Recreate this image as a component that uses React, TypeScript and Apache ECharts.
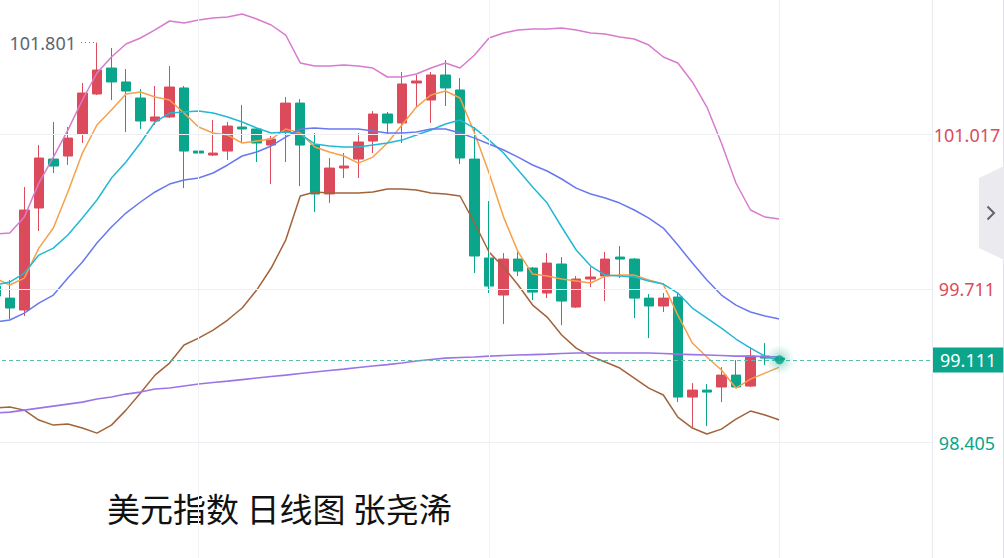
import React, { useEffect, useRef } from "react";
import * as echarts from "echarts";

// ---------- data ----------
const slotCount = 65; // 55 trading days + empty space on the right
const categories = Array.from({ length: slotCount }, (_, i) => `K${i + 1}`);

// [open, close, low, high]
const ohlc: number[][] = [
  [99.736, 99.651, 99.617, 99.787],
  [99.634, 99.55, 99.456, 99.787],
  [99.533, 100.381, 99.482, 100.576],
  [100.398, 100.822, 100.203, 100.932],
  [100.813, 100.754, 100.695, 101.127],
  [100.839, 100.991, 100.763, 101.085],
  [101.025, 101.373, 100.949, 101.458],
  [101.365, 101.568, 101.356, 101.801],
  [101.585, 101.467, 101.314, 101.755],
  [101.467, 101.39, 101.042, 101.577],
  [101.331, 101.136, 101.068, 101.407],
  [101.136, 101.17, 101.102, 101.433],
  [101.17, 101.424, 101.161, 101.602],
  [101.416, 100.881, 100.567, 101.433],
  [100.881, 100.864, 100.593, 100.991],
  [100.847, 100.864, 100.839, 101.144],
  [100.881, 101.093, 100.805, 101.127],
  [101.085, 101.068, 100.949, 101.271],
  [101.068, 100.949, 100.788, 101.076],
  [100.932, 100.983, 100.601, 101.008],
  [101.042, 101.288, 100.788, 101.339],
  [101.288, 100.932, 100.584, 101.322],
  [100.932, 100.517, 100.364, 101.034],
  [100.517, 100.737, 100.44, 100.822],
  [100.737, 100.754, 100.652, 100.864],
  [100.813, 100.958, 100.652, 101.034],
  [100.966, 101.195, 100.864, 101.22],
  [101.195, 101.119, 101.025, 101.212],
  [101.119, 101.45, 100.949, 101.551],
  [101.458, 101.475, 101.254, 101.526],
  [101.314, 101.526, 101.119, 101.551],
  [101.526, 101.416, 101.263, 101.653],
  [101.399, 100.822, 100.771, 101.5],
  [100.813, 99.991, 99.846, 101.085],
  [99.974, 99.736, 99.677, 100.457],
  [99.66, 99.965, 99.414, 100.016],
  [99.965, 99.863, 99.821, 100.042],
  [99.889, 99.685, 99.617, 99.897],
  [99.677, 99.931, 99.634, 100.016],
  [99.923, 99.609, 99.405, 99.982],
  [99.558, 99.796, 99.55, 99.821],
  [99.796, 99.813, 99.728, 99.897],
  [99.821, 99.965, 99.609, 100.025],
  [99.982, 99.965, 99.804, 100.075],
  [99.965, 99.634, 99.465, 99.974],
  [99.634, 99.567, 99.295, 99.668],
  [99.567, 99.634, 99.516, 99.677],
  [99.643, 98.795, 98.752, 99.677],
  [98.795, 98.854, 98.54, 98.913],
  [98.854, 98.837, 98.549, 98.905],
  [98.88, 98.981, 98.752, 99.049],
  [98.981, 98.88, 98.871, 99.108],
  [98.888, 99.142, 98.88, 99.219],
  [99.142, 99.125, 99.066, 99.253],
  [99.125, 99.111, 99.1, 99.142],
];

const ma5 = [
  99.804, 99.745, 99.804, 100.058, 100.228, 100.534, 100.864, 101.102, 101.229, 101.365,
  101.382, 101.339, 101.314, 101.203, 101.085, 101.034, 101.017, 100.949, 100.966, 100.983,
  101.068, 101.034, 100.915, 100.873, 100.839, 100.779, 100.83, 100.949, 101.102, 101.254,
  101.356, 101.39, 101.331, 101.034, 100.695, 100.321, 100.025, 99.838, 99.821, 99.796,
  99.779, 99.762, 99.821, 99.829, 99.829, 99.787, 99.753, 99.49, 99.253, 99.134,
  99.024, 98.871, 98.947, 98.998, 99.049,
];

const ma10 = [
  99.745, 99.77, 99.846, 99.999, 100.058, 100.169, 100.313, 100.466, 100.652, 100.788,
  100.949, 101.127, 101.203, 101.212, 101.22, 101.203, 101.17, 101.127, 101.076, 101.034,
  101.042, 101.025, 100.941, 100.924, 100.915, 100.915, 100.932, 100.949, 100.974, 101.017,
  101.059, 101.11, 101.144, 101.076, 100.974, 100.864, 100.72, 100.576, 100.44, 100.237,
  100.042, 99.906, 99.829, 99.821, 99.813, 99.779, 99.753, 99.677, 99.55, 99.465,
  99.38, 99.287, 99.21, 99.142, 99.1,
];

const ma20 = [
  99.431, 99.448, 99.507, 99.592, 99.66, 99.804, 99.94, 100.101, 100.237, 100.355,
  100.449, 100.534, 100.601, 100.635, 100.652, 100.695, 100.763, 100.839, 100.873, 100.924,
  101.0, 101.068, 101.076, 101.068, 101.068, 101.068, 101.051, 101.034, 101.034, 101.042,
  101.068, 101.068, 101.034, 100.991, 100.941, 100.89, 100.83, 100.763, 100.712, 100.644,
  100.567, 100.517, 100.483, 100.44, 100.381, 100.313, 100.228, 100.084, 99.931, 99.787,
  99.66, 99.575, 99.516, 99.482, 99.456,
];

const bollUpper = [
  100.177, 100.186, 100.321, 100.61, 100.83, 101.059, 101.314, 101.543, 101.679, 101.789,
  101.84, 101.908, 101.984, 101.967, 101.992, 102.009, 102.018, 102.043, 102.001, 101.95,
  101.865, 101.628, 101.602, 101.602, 101.611, 101.602, 101.585, 101.509, 101.509, 101.534,
  101.585, 101.628, 101.585, 101.696, 101.84, 101.882, 101.908, 101.916, 101.916, 101.925,
  101.908, 101.882, 101.874, 101.848, 101.831, 101.78, 101.679, 101.628, 101.467, 101.254,
  100.949, 100.61, 100.381, 100.321, 100.304,
];

const bollLower = [
  98.701, 98.71, 98.684, 98.6, 98.557, 98.566, 98.532, 98.489, 98.557, 98.684,
  98.829, 98.981, 99.083, 99.236, 99.295, 99.363, 99.448, 99.55, 99.702, 99.889,
  100.126, 100.5, 100.534, 100.525, 100.525, 100.525, 100.534, 100.559, 100.559, 100.55,
  100.525, 100.517, 100.5, 100.271, 100.025, 99.897, 99.745, 99.575, 99.473, 99.321,
  99.21, 99.142, 99.092, 99.041, 98.956, 98.871, 98.812, 98.625, 98.532, 98.481,
  98.523, 98.608, 98.676, 98.642, 98.6,
];

const maLong = [
  98.659, 98.667, 98.684, 98.701, 98.718, 98.735, 98.752, 98.778, 98.795, 98.82,
  98.837, 98.863, 98.871, 98.888, 98.905, 98.918, 98.93, 98.943, 98.956, 98.969,
  98.981, 98.994, 99.007, 99.02, 99.032, 99.045, 99.058, 99.07, 99.083, 99.1,
  99.113, 99.125, 99.13, 99.134, 99.142, 99.147, 99.151, 99.155, 99.159, 99.164,
  99.168, 99.168, 99.168, 99.168, 99.168, 99.168, 99.164, 99.159, 99.155, 99.151,
  99.147, 99.142, 99.142, 99.138, 99.134,
];

const yTicks = [98.405, 99.711, 101.017];
const currentPrice = 99.111;
const highValue = 101.801;
const highIndex = 7;
const vGridIndexes = [14, 34, 54];
const yMin = 97.43;
const yMax = 102.162;
const caption = "美元指数 日线图 张尧浠";

// ---------- layout / style ----------
// The chart canvas starts 12px left of the page so that the first (cut-off) candle is partly hidden.
const SHIFT = 12;
const CHART_W = 1004 + SHIFT;
const CHART_H = 558;
const RED = "#dc4b5b";
const GREEN = "#0aa58a";
const NUM_FONT = '"Noto Sans", "Open Sans", sans-serif';
const CJK_FONT = '"Noto Sans CJK SC", "Noto Sans", sans-serif';

function lineSeries(name: string, data: number[], color: string, width = 1.5) {
  return {
    name,
    type: "line",
    data,
    showSymbol: false,
    symbol: "none",
    smooth: false,
    z: 3,
    silent: true,
    lineStyle: { color, width },
  };
}

export default function App() {
  const ref = useRef<HTMLDivElement>(null);

  useEffect(() => {
    if (!ref.current) return;
    const chart = echarts.init(ref.current, null, { renderer: "svg", width: CHART_W, height: CHART_H });
    const lastIdx = ohlc.length - 1;

    const glow = new echarts.graphic.RadialGradient(0.5, 0.5, 0.5, [
      { offset: 0, color: "rgba(10,165,138,0.55)" },
      { offset: 0.6, color: "rgba(10,165,138,0.18)" },
      { offset: 1, color: "rgba(10,165,138,0)" },
    ]);

    const px = (x: number) => x + SHIFT;

    const option: any = {
      animation: false,
      backgroundColor: "#ffffff",
      grid: { left: 0, right: 72, top: 0, bottom: 0, containLabel: false },
      xAxis: {
        type: "category",
        data: categories,
        boundaryGap: true,
        axisLine: { show: false },
        axisTick: { show: false },
        axisLabel: { show: false },
        splitLine: { show: false },
      },
      yAxis: {
        type: "value",
        position: "right",
        min: yMin,
        max: yMax,
        splitLine: { show: false },
        axisLine: { show: true, lineStyle: { color: "#e9eaef", width: 1 } },
        axisTick: { show: false },
        axisLabel: {
          customValues: yTicks,
          margin: 35,
          align: "center",
          fontSize: 18,
          fontFamily: NUM_FONT,
          padding: [6, 0, 0, 0],
          color: (v: any) => (Number(v) > currentPrice ? RED : GREEN),
          formatter: (v: any) => Number(v).toFixed(3),
        },
      },
      graphic: [
        {
          type: "line",
          silent: true,
          shape: { x1: px(1003.5), y1: 0, x2: px(1003.5), y2: CHART_H },
          style: { stroke: "#e2e3e8", lineWidth: 1 },
        },
        {
          type: "polygon",
          silent: true,
          shape: { points: [[px(979), 178], [px(1004), 166], [px(1004), 260], [px(979), 248]] },
          style: { fill: "#ebebef" },
        },
        {
          type: "polyline",
          silent: true,
          shape: { points: [[px(987.5), 206.5], [px(994), 213], [px(987.5), 219.5]] },
          style: { stroke: "#5f6470", lineWidth: 2, fill: null },
        },
        {
          type: "text",
          silent: true,
          x: px(107),
          y: 508,
          style: {
            text: caption,
            font: `33px ${CJK_FONT}`,
            fill: "#111111",
            verticalAlign: "middle",
          },
        },
      ],
      series: [
        {
          name: "guides",
          type: "line",
          data: [],
          z: 1,
          silent: true,
          markLine: {
            silent: true,
            symbol: ["none", "none"],
            animation: false,
            data: [
              ...vGridIndexes.map((i) => ({
                xAxis: categories[i],
                lineStyle: { color: "#f0f1f4", width: 1, type: "solid" },
                label: { show: false },
              })),
              ...yTicks.map((v) => ({
                yAxis: v,
                lineStyle: { color: "#eeeff3", width: 1, type: "solid" },
                label: { show: false },
              })),
              {
                yAxis: currentPrice,
                lineStyle: { color: "#5cbfa9", width: 1, type: [4, 3] },
                label: {
                  show: true,
                  position: "end",
                  distance: 1,
                  formatter: currentPrice.toFixed(3),
                  color: "#ffffff",
                  backgroundColor: GREEN,
                  fontSize: 18,
                  fontFamily: NUM_FONT,
                  padding: [3, 7, 2, 7],
                  lineHeight: 20,
                },
              },
              [
                {
                  x: px(81),
                  yAxis: highValue,
                  lineStyle: { color: "#7d818c", width: 1.2, type: [1, 3] },
                  label: {
                    show: true,
                    position: "start",
                    distance: 5,
                    formatter: highValue.toFixed(3),
                    color: "#5f6470",
                    fontSize: 18,
                    fontFamily: NUM_FONT,
                    padding: [8, 0, 0, 0],
                  },
                },
                { coord: [categories[highIndex], highValue] },
              ],
            ],
          },
        },
        {
          name: "K",
          type: "candlestick",
          data: ohlc,
          barWidth: 10,
          z: 2,
          silent: true,
          itemStyle: {
            color: RED,
            color0: GREEN,
            borderColor: RED,
            borderColor0: GREEN,
            borderWidth: 1,
          },
        },
        lineSeries("MA5", ma5, "#f6a04b"),
        lineSeries("MA10", ma10, "#22b8d6"),
        lineSeries("MA20", ma20, "#6878ef"),
        lineSeries("UP", bollUpper, "#d87bcf"),
        lineSeries("DN", bollLower, "#a2633b"),
        lineSeries("MA120", maLong, "#9b74e6", 1.6),
        {
          name: "glow",
          type: "scatter",
          z: 5,
          silent: true,
          symbolSize: 30,
          data: [[categories[lastIdx], currentPrice]],
          itemStyle: { color: glow },
        },
        {
          name: "dot",
          type: "scatter",
          z: 6,
          silent: true,
          symbolSize: 9,
          data: [[categories[lastIdx], currentPrice]],
          itemStyle: { color: GREEN },
        },
      ],
    };

    chart.setOption(option);
    return () => chart.dispose();
  }, []);

  return (
    <div
      ref={ref}
      style={{
        position: "fixed",
        left: -SHIFT,
        top: 0,
        width: CHART_W,
        height: CHART_H,
        background: "#fff",
      }}
    />
  );
}
